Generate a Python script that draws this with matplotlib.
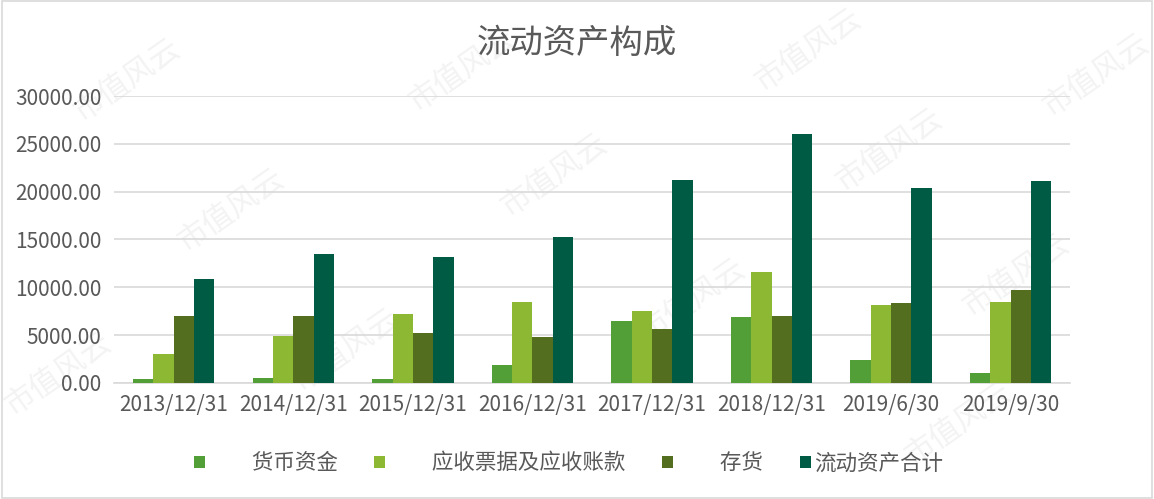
import matplotlib.pyplot as plt
import matplotlib.patches as mpatches
import numpy as np

plt.rcParams['font.family'] = ['Noto Sans CJK SC', 'DejaVu Sans']

dates = ["2013/12/31", "2014/12/31", "2015/12/31", "2016/12/31",
         "2017/12/31", "2018/12/31", "2019/6/30", "2019/9/30"]

cash = [400, 520, 420, 1840, 6490, 6880, 2430, 1010]                  # 货币资金
receivables = [3020, 4860, 7220, 8470, 7530, 11560, 8190, 8440]       # 应收票据及应收账款
inventory = [7050, 7050, 5210, 4760, 5620, 6980, 8330, 9760]          # 存货
total = [10900, 13500, 13190, 15310, 21180, 26080, 20420, 21110]      # 流动资产合计

series = [cash, receivables, inventory, total]
pad = " " * 9
names = [pad + "货币资金", pad + "应收票据及应收账款", pad + "存货", "流动资产合计"]
colors = ["#529E37", "#8CB833", "#546E1F", "#005B45"]

# watermark spots (figure fraction)
wm_x = [0.11, 0.40, 0.70, 0.95, 0.48, 0.77, 0.20, 0.60, 0.88, 0.30, 0.83, 0.05]
wm_y = [0.84, 0.86, 0.90, 0.85, 0.65, 0.70, 0.58, 0.40, 0.45, 0.30, 0.15, 0.25]

fig = plt.figure(figsize=(11.54, 4.99), dpi=100)
ax = fig.add_axes([0.0988, 0.2325, 0.8288, 0.5751])
ax.set_zorder(2)

for wx, wy in zip(wm_x, wm_y):
    fig.text(wx, wy, "市值风云", fontsize=22, color="#f3f3f3", rotation=35,
             ha="center", va="center", zorder=1)

x = np.arange(len(dates))
w = 0.17
for i, (vals, name, c) in enumerate(zip(series, names, colors)):
    ax.bar(x + (i - 1.5) * w, vals, width=w, color=c, label=name, zorder=3)

ax.set_xlim(-0.5, len(dates) - 0.5)
ax.set_ylim(0, 30000)
ax.set_yticks(np.arange(0, 30001, 5000))
ax.set_yticklabels([f"{v:.2f}" for v in np.arange(0, 30001, 5000)])
ax.set_xticks(x)
ax.set_xticklabels(dates)
ax.tick_params(axis="both", length=0, labelsize=15, colors="#595959")
ax.tick_params(axis="x", pad=8)
ax.tick_params(axis="y", pad=9)
ax.yaxis.grid(True, color="#d9d9d9", lw=1.2, zorder=0)
ax.set_axisbelow(True)
for s in ["top", "right", "left"]:
    ax.spines[s].set_visible(False)
ax.spines["bottom"].set_color("#d9d9d9")
ax.spines["bottom"].set_linewidth(1.2)
ax.patch.set_alpha(0)

fig.text(0.5, 0.912, "流动资产构成", ha="center", va="center", fontsize=24, color="#595959")

ax.legend(loc="center", bbox_to_anchor=(0.475, -0.28), ncol=4, frameon=False,
          fontsize=15.5, labelcolor="#595959", handlelength=0.5, handleheight=0.5,
          handletextpad=0.15, columnspacing=1.7)

fig.patches.append(mpatches.Rectangle((0.002, 0.003), 0.996, 0.994, transform=fig.transFigure,
                                      fill=False, edgecolor="#d9d9d9", lw=1.2))

fig.savefig("out.png", dpi=100)
